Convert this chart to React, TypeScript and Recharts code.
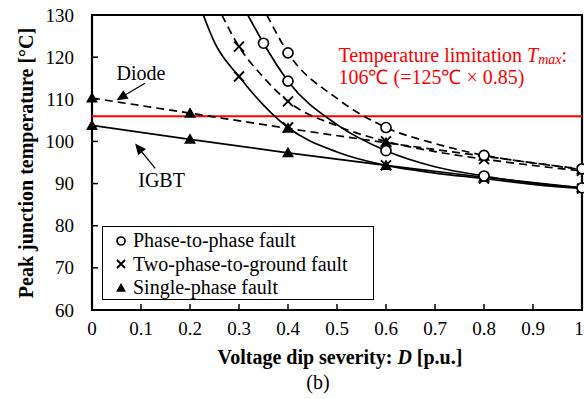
import {
  ComposedChart,
  Line,
  ReferenceArea,
  ReferenceDot,
  ReferenceLine,
  Scatter,
  XAxis,
  YAxis,
} from "recharts";

// D values [p.u.] where markers sit
const dSingle = [0, 0.2, 0.4, 0.6, 0.8, 1];
const dTwoPhase = [0.3, 0.4, 0.6, 0.8, 1];
const dPhaseIgbt = [0.35, 0.4, 0.6, 0.8, 1];
const dPhaseDiode = [0.4, 0.6, 0.8, 1];

// marker temperatures [°C]
const singleIgbt = [103.8, 100.5, 97.3, 94.3, 91.5, 89.0];
const singleDiode = [110.3, 106.7, 103.1, 99.7, 96.5, 93.3];
const twoPhaseIgbt = [115.4, 103.3, 94.3, 91.2, 88.8];
const twoPhaseDiode = [122.5, 109.5, 100.0, 95.8, 93.0];
const phaseIgbt = [123.3, 114.3, 97.8, 91.8, 89.0];
const phaseDiode = [121.0, 103.3, 96.7, 93.5];

// extra points (where they leave the top, and between markers)
const twoPhaseIgbtCurveD = [0.227, 0.25, 0.5, 0.7, 0.9];
const twoPhaseIgbtCurve = [130, 123.5, 97.5, 92.5, 89.8];
const twoPhaseDiodeCurveD = [0.265, 0.35, 0.5, 0.7, 0.9];
const twoPhaseDiodeCurve = [130, 115.2, 103.7, 97.6, 94.3];
const phaseIgbtCurveD = [0.318, 0.5, 0.7, 0.9];
const phaseIgbtCurve = [130, 104.0, 94.0, 90.1];
const phaseDiodeCurveD = [0.357, 0.5, 0.7, 0.9];
const phaseDiodeCurve = [130, 110.2, 99.5, 94.9];

const tLimit = 106;
const xTicks = [0, 0.1, 0.2, 0.3, 0.4, 0.5, 0.6, 0.7, 0.8, 0.9, 1];
const yTicks = [60, 70, 80, 90, 100, 110, 120, 130];

const FONT = '"Liberation Serif", "Times New Roman", serif';
const FS = 20;
const TICK_FS = 19;

type Pt = { d: number; t: number };
const pts = (ds: number[], ts: number[]): Pt[] => ds.map((d, i) => ({ d, t: ts[i] }));
const curve = (a: Pt[], b: Pt[]) => [...a, ...b].sort((p, q) => p.d - q.d);

const single_i = pts(dSingle, singleIgbt);
const single_d = pts(dSingle, singleDiode);
const two_i = pts(dTwoPhase, twoPhaseIgbt);
const two_d = pts(dTwoPhase, twoPhaseDiode);
const ph_i = pts(dPhaseIgbt, phaseIgbt);
const ph_d = pts(dPhaseDiode, phaseDiode);

const DASH = "8 5";
const curves = [
  { key: "si", data: single_i, dash: undefined },
  { key: "sd", data: single_d, dash: DASH },
  { key: "ti", data: curve(two_i, pts(twoPhaseIgbtCurveD, twoPhaseIgbtCurve)), dash: undefined },
  { key: "td", data: curve(two_d, pts(twoPhaseDiodeCurveD, twoPhaseDiodeCurve)), dash: DASH },
  { key: "pi", data: curve(ph_i, pts(phaseIgbtCurveD, phaseIgbtCurve)), dash: undefined },
  { key: "pd", data: curve(ph_d, pts(phaseDiodeCurveD, phaseDiodeCurve)), dash: DASH },
];

const Circle = (p: any) => (
  <circle cx={p.cx} cy={p.cy} r={p.s ?? 5} fill="#fff" stroke="#000" strokeWidth={1.7} />
);
const Cross = (p: any) => {
  const s = p.s ?? 5;
  return (
    <path
      d={`M${p.cx - s},${p.cy - s}L${p.cx + s},${p.cy + s}M${p.cx - s},${p.cy + s}L${p.cx + s},${p.cy - s}`}
      stroke="#000"
      strokeWidth={1.9}
    />
  );
};
const Tri = (p: any) => {
  const s = p.s ?? 6;
  return (
    <path d={`M${p.cx},${p.cy - s}L${p.cx + s},${p.cy + s * 0.75}L${p.cx - s},${p.cy + s * 0.75}Z`} fill="#000" />
  );
};

const renderYTick = (p: any) => (
  <g key={p.payload.value}>
    <line x1={p.x} x2={p.x + 6} y1={p.y} y2={p.y} stroke="#000" strokeWidth={1.5} />
    <text x={p.x - 18} y={p.y} textAnchor="end" dominantBaseline="central" fontSize={TICK_FS} fontFamily={FONT}>
      {p.payload.value}
    </text>
  </g>
);
const renderXTick = (p: any) => (
  <g key={p.payload.value}>
    <line x1={p.x} x2={p.x} y1={p.y} y2={p.y - 6} stroke="#000" strokeWidth={1.5} />
    <text
      x={p.payload.value === 1 ? p.x - 3 : p.x}
      y={p.y + 18}
      textAnchor="middle"
      dominantBaseline="central"
      fontSize={TICK_FS}
      fontFamily={FONT}
    >
      {p.payload.value}
    </text>
  </g>
);

// arrow drawn from (x1,y1) to tip at (x2,y2)
const Arrow = (p: any) => {
  const { x1, y1, x2, y2 } = p;
  const a = Math.atan2(y2 - y1, x2 - x1);
  const L = 11;
  const w = 5;
  const bx = x2 - L * Math.cos(a);
  const by = y2 - L * Math.sin(a);
  const nx = -Math.sin(a) * w;
  const ny = Math.cos(a) * w;
  return (
    <g>
      <line x1={x1} y1={y1} x2={bx} y2={by} stroke="#000" strokeWidth={1.3} />
      <path d={`M${x2},${y2}L${bx + nx},${by + ny}L${bx - nx},${by - ny}Z`} fill="#000" />
    </g>
  );
};

const Label = (txt: string, anchor: "start" | "middle" = "middle", color = "#000") => (p: any) => (
  <text x={p.cx} y={p.cy} textAnchor={anchor} dominantBaseline="central" fontSize={FS} fontFamily={FONT} fill={color}>
    {txt}
  </text>
);

const RedLine1 = (p: any) => (
  <text x={p.cx} y={p.cy} dominantBaseline="central" fontSize={FS} fontFamily={FONT} fill="#ff0000">
    Temperature limitation <tspan fontStyle="italic">T</tspan>
    <tspan fontStyle="italic" fontSize={14} dy={4}>max</tspan>
    <tspan dy={-4}>:</tspan>
  </text>
);

const legendRows = [
  { label: "Phase-to-phase fault", Shape: Circle, s: 4 },
  { label: "Two-phase-to-ground fault", Shape: Cross, s: 4 },
  { label: "Single-phase fault", Shape: Tri, s: 5 },
];

export default function App() {
  return (
    <div style={{ position: "absolute", left: 0, top: 0, width: 584, height: 399, background: "#fff", fontFamily: FONT }}>
      <ComposedChart width={584} height={399} margin={{ top: 15, right: 2, bottom: 49, left: 32 }}>
        <XAxis
          type="number"
          dataKey="d"
          domain={[0, 1]}
          ticks={xTicks}
          height={40}
          tickSize={0}
          tickMargin={0}
          tick={renderXTick}
          axisLine={false}
          tickLine={false}
          interval={0}
        />
        <YAxis
          type="number"
          dataKey="t"
          domain={[60, 130]}
          ticks={yTicks}
          width={60}
          tickSize={0}
          tickMargin={0}
          tick={renderYTick}
          axisLine={false}
          tickLine={false}
          allowDataOverflow
          interval={0}
        />
        <ReferenceLine y={tLimit} stroke="#ff0000" strokeWidth={2} />
        {curves.map((c) => (
          <Line
            key={c.key}
            data={c.data}
            dataKey="t"
            type="monotone"
            stroke="#000"
            strokeWidth={1.7}
            strokeDasharray={c.dash}
            dot={false}
            activeDot={false}
            isAnimationActive={false}
          />
        ))}
        <Scatter data={single_d} dataKey="t" shape={Tri} isAnimationActive={false} />
        <Scatter data={single_i} dataKey="t" shape={Tri} isAnimationActive={false} />
        <Scatter data={two_d} dataKey="t" shape={Cross} isAnimationActive={false} />
        <Scatter data={two_i} dataKey="t" shape={Cross} isAnimationActive={false} />
        <Scatter data={ph_d} dataKey="t" shape={Circle} isAnimationActive={false} />
        <Scatter data={ph_i} dataKey="t" shape={Circle} isAnimationActive={false} />
        <ReferenceArea x1={0} x2={1} y1={60} y2={130} fill="none" stroke="#000" strokeWidth={2.2} />
        <ReferenceLine segment={[{ x: 0.108, y: 113.8 }, { x: 0.05, y: 109.8 }]} shape={Arrow} ifOverflow="visible" />
        <ReferenceLine segment={[{ x: 0.129, y: 93.6 }, { x: 0.088, y: 99.5 }]} shape={Arrow} ifOverflow="visible" />
        <ReferenceDot x={0.1} y={116.3} r={0} shape={Label("Diode")} ifOverflow="visible" />
        <ReferenceDot x={0.142} y={90.8} r={0} shape={Label("IGBT")} ifOverflow="visible" />
        <ReferenceDot x={0.503} y={120.6} r={0} shape={RedLine1} ifOverflow="visible" />
        <ReferenceDot
          x={0.503}
          y={115.2}
          r={0}
          shape={Label("106℃ (=125℃ × 0.85)", "start", "#ff0000")}
          ifOverflow="visible"
        />
      </ComposedChart>

      <div
        style={{
          position: "absolute",
          left: 102,
          top: 226,
          width: 272,
          height: 74,
          border: "1.5px solid #000",
          background: "#fff",
          boxSizing: "border-box",
          paddingTop: 2,
          paddingLeft: 12,
        }}
      >
        {legendRows.map(({ label, Shape, s }) => (
          <div key={label} style={{ display: "flex", alignItems: "center", height: 23.5, fontSize: FS }}>
            <svg width={18} height={20}>
              <Shape cx={6} cy={10} s={s} />
            </svg>
            <span>{label}</span>
          </div>
        ))}
      </div>

      <svg width={584} height={399} style={{ position: "absolute", left: 0, top: 0, pointerEvents: "none" }}>
        <text
          x={340}
          y={357}
          textAnchor="middle"
          dominantBaseline="central"
          fontSize={FS}
          fontWeight="bold"
          fontFamily={FONT}
        >
          Voltage dip severity: <tspan fontStyle="italic">D</tspan> [p.u.]
        </text>
        <text x={318} y={382} textAnchor="middle" dominantBaseline="central" fontSize={FS} fontFamily={FONT}>
          (b)
        </text>
        <text
          transform="translate(26,163) rotate(-90)"
          textAnchor="middle"
          dominantBaseline="central"
          fontSize={FS}
          fontWeight="bold"
          fontFamily={FONT}
        >
          Peak junction temperature [°C]
        </text>
      </svg>
    </div>
  );
}
